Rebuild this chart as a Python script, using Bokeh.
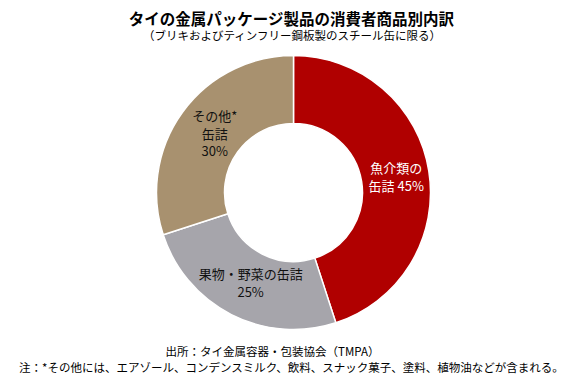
import math
from bokeh.plotting import figure
from bokeh.models import Range1d, ColumnDataSource, Label
from bokeh.embed import file_html
from bokeh.resources import INLINE
from bokeh.core.properties import value

# ---- data ----
categories = ["魚介類の缶詰", "果物・野菜の缶詰", "その他*缶詰"]
shares = [45, 25, 30]
label_texts = ["魚介類の\n缶詰 45%", "果物・野菜の缶詰\n25%", "その他*\n缶詰\n30%"]
colors = ["#B00000", "#A6A5AB", "#A8916F"]
label_colors = ["#FFFFFF", "#111111", "#111111"]

title = "タイの金属パッケージ製品の消費者商品別内訳"
subtitle = "（ブリキおよびティンフリー鋼板製のスチール缶に限る）"
source_note = "出所：タイ金属容器・包装協会（TMPA）"
note = "注：*その他には、エアゾール、コンデンスミルク、飲料、スナック菓子、塗料、植物油などが含まれる。"

W, H = 580, 378
FONT = "Noto Sans CJK JP"

p = figure(width=W, height=H, output_backend="svg", toolbar_location=None,
           x_range=Range1d(0, W), y_range=Range1d(0, H),
           x_axis_type=None, y_axis_type=None, min_border=0)
p.outline_line_color = None
p.grid.visible = False

cx, cy = 293, H - 192
r_in, r_out = 69, 137

total = sum(shares)
starts, ends, lx, ly = [], [], [], []
cum = 0.0
r_lab = 101
for s in shares:
    a0 = math.pi / 2 - 2 * math.pi * cum / total
    cum += s
    a1 = math.pi / 2 - 2 * math.pi * cum / total
    starts.append(a0)
    ends.append(a1)
    mid = (a0 + a1) / 2
    lx.append(cx + r_lab * math.cos(mid) + 3)
    ly.append(cy + r_lab * math.sin(mid))

src = ColumnDataSource(dict(start=starts, end=ends, color=colors,
                            lx=lx, ly=ly, text=label_texts, tcolor=label_colors))

p.annular_wedge(x=cx, y=cy, inner_radius=r_in, outer_radius=r_out,
                start_angle="start", end_angle="end", direction="clock",
                fill_color="color", line_color="white", line_width=1.5, source=src)

p.text(x="lx", y="ly", text="text", source=src, text_color="tcolor",
       text_align="center", text_baseline="middle", text_font=value(FONT),
       text_font_size="13px", text_line_height=0.93)

p.add_layout(Label(x=291, y=H - 17, text=title, text_font=FONT, text_font_size="15.5px",
                   text_font_style="bold", text_align="center", text_baseline="middle",
                   text_color="#000000"))
p.add_layout(Label(x=292, y=H - 34, text=subtitle, text_font=FONT, text_font_size="11.5px",
                   text_align="center", text_baseline="middle", text_color="#000000"))
p.add_layout(Label(x=272, y=H - 350, text=source_note, text_font=FONT, text_font_size="11.5px",
                   text_align="center", text_baseline="middle", text_color="#000000"))
p.add_layout(Label(x=291, y=H - 366, text=note, text_font=FONT, text_font_size="11.5px",
                   text_align="center", text_baseline="middle", text_color="#000000"))

open("out.html", "w").write(file_html(p, INLINE))
